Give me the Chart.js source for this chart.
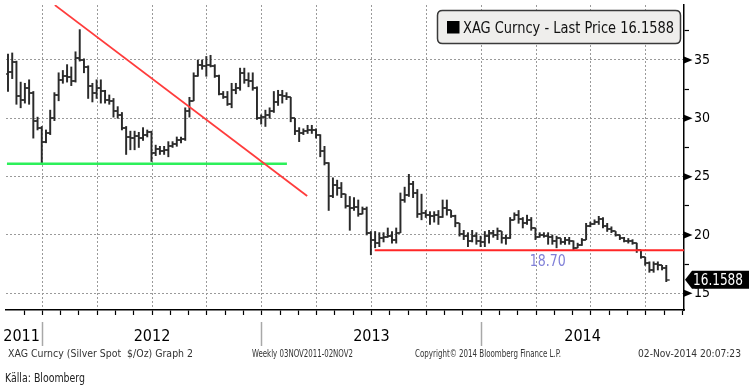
<!DOCTYPE html>
<html><head><meta charset="utf-8">
<script src="https://cdn.jsdelivr.net/npm/chart.js@4.4.1/dist/chart.umd.min.js"></script>
<style>html,body{margin:0;padding:0;background:#fff;overflow:hidden}#wrap{width:749px;height:387px;position:relative}</style>
</head><body><div id="wrap"><canvas id="c" width="749" height="387"></canvas></div>
<script>
// ---------- DATA ----------
const weeks = ['2011-11-04','2011-11-11','2011-11-18','2011-11-25','2011-12-02','2011-12-09','2011-12-16','2011-12-23','2011-12-30',
'2012-01-06','2012-01-13','2012-01-20','2012-01-27','2012-02-03','2012-02-10','2012-02-17','2012-02-24','2012-03-02','2012-03-09','2012-03-16','2012-03-23','2012-03-30','2012-04-06','2012-04-13','2012-04-20','2012-04-27','2012-05-04','2012-05-11','2012-05-18','2012-05-25','2012-06-01','2012-06-08','2012-06-15','2012-06-22','2012-06-29','2012-07-06','2012-07-13','2012-07-20','2012-07-27','2012-08-03','2012-08-10','2012-08-17','2012-08-24','2012-08-31','2012-09-07','2012-09-14','2012-09-21','2012-09-28','2012-10-05','2012-10-12','2012-10-19','2012-10-26','2012-11-02','2012-11-09','2012-11-16','2012-11-23','2012-11-30','2012-12-07','2012-12-14','2012-12-21','2012-12-28',
'2013-01-04','2013-01-11','2013-01-18','2013-01-25','2013-02-01','2013-02-08','2013-02-15','2013-02-22','2013-03-01','2013-03-08','2013-03-15','2013-03-22','2013-03-29','2013-04-05','2013-04-12','2013-04-19','2013-04-26','2013-05-03','2013-05-10','2013-05-17','2013-05-24','2013-05-31','2013-06-07','2013-06-14','2013-06-21','2013-06-28','2013-07-05','2013-07-12','2013-07-19','2013-07-26','2013-08-02','2013-08-09','2013-08-16','2013-08-23','2013-08-30','2013-09-06','2013-09-13','2013-09-20','2013-09-27','2013-10-04','2013-10-11','2013-10-18','2013-10-25','2013-11-01','2013-11-08','2013-11-15','2013-11-22','2013-11-29','2013-12-06','2013-12-13','2013-12-20','2013-12-27',
'2014-01-03','2014-01-10','2014-01-17','2014-01-24','2014-01-31','2014-02-07','2014-02-14','2014-02-21','2014-02-28','2014-03-07','2014-03-14','2014-03-21','2014-03-28','2014-04-04','2014-04-11','2014-04-18','2014-04-25','2014-05-02','2014-05-09','2014-05-16','2014-05-23','2014-05-30','2014-06-06','2014-06-13','2014-06-20','2014-06-27','2014-07-04','2014-07-11','2014-07-18','2014-07-25','2014-08-01','2014-08-08','2014-08-15','2014-08-22','2014-08-29','2014-09-05','2014-09-12','2014-09-19','2014-09-26','2014-10-03','2014-10-10','2014-10-17','2014-10-24','2014-10-31'];

const openP = [33.8,34.0,34.8,31.9,31.6,32.6,32.2,29.8,29.2,28.0, 28.7,30.0,32.0,33.3,33.6,33.5,33.2,35.2,35.0,34.4,
32.8,32.2,32.6,32.3,31.6,31.5,30.6,30.3,29.2,28.4, 28.3,28.5,28.3,28.6,28.8,27.0,27.4,27.2,27.3,27.6,
27.8,28.1,28.2,30.6,31.5,33.6,34.6,34.5,34.6,34.5, 33.6,32.1,31.8,31.2,32.4,32.6,33.9,33.3,33.2,32.6,
30.0,30.1,30.3,30.6,31.4,32.0,31.9,31.8,30.0,28.9, 28.7,28.9,29.0,29.0,28.6,27.2,26.2,23.3,24.3,24.0,
23.5,22.5,22.3,22.4,21.8,22.2,20.2,19.6,19.3,19.7, 19.8,19.9,19.6,20.2,23.0,23.4,24.4,23.6,21.8,21.9,
21.7,21.6,21.7,21.5,22.3,22.1,21.6,21.0,20.1,19.9, 19.5,19.9,19.5,19.4,19.9,20.2,20.0,20.3,19.7,19.7,
21.3,21.7,21.4,21.0,21.3,20.6,19.8,20.0,19.9,19.8, 19.5,19.7,19.4,19.6,19.5,18.9,19.1,19.6,20.8,20.9,
21.1,21.4,20.8,20.5,20.3,20.0,19.7,19.5,19.5,19.3, 18.7,18.1,17.6,17.0,17.5,17.4,17.2];

const highP = [35.5,35.6,34.9,33.1,33.0,33.3,32.3,30.1,29.3,29.0, 30.7,32.2,33.9,34.1,34.6,34.4,35.7,37.6,35.1,34.5,
33.0,33.3,33.3,32.4,32.0,31.7,31.0,30.5,29.3,28.9, 28.9,28.8,29.2,29.0,28.9,27.7,27.6,27.6,28.0,28.0,
28.4,28.4,30.9,31.8,33.9,35.0,35.0,35.3,35.4,34.6, 33.7,32.3,32.3,33.0,33.0,34.3,34.3,33.9,33.9,32.7,
30.3,30.7,30.9,32.3,32.4,32.4,32.2,31.8,30.0,29.2, 29.1,29.4,29.4,29.1,28.6,27.6,26.2,24.9,24.7,24.5,
23.5,23.3,23.2,23.0,22.4,22.4,20.3,20.3,20.2,20.2, 20.6,20.3,20.6,23.6,24.1,25.2,24.6,23.9,23.5,22.1,
22.0,22.0,22.1,23.0,23.0,22.1,21.7,21.0,20.4,20.2, 20.4,20.2,19.9,20.3,20.4,20.4,20.6,20.3,20.0,21.5,
21.9,22.1,21.5,21.7,21.5,20.6,20.2,20.2,20.2,20.0, 19.9,19.7,19.8,19.8,19.5,19.3,19.7,21.0,21.1,21.3,
21.6,21.5,21.0,20.7,20.3,20.0,19.8,19.7,19.6,19.3, 18.7,18.1,17.7,17.7,17.7,17.4,17.4];

const lowP = [32.3,33.4,31.2,30.9,31.3,31.2,28.3,29.0,26.15,27.9, 28.6,29.8,31.5,33.0,33.1,32.8,33.1,34.9,33.9,31.7,
31.4,31.7,31.3,31.3,31.2,30.1,30.0,29.0,26.9,27.3, 27.3,27.5,28.1,28.4,26.3,26.8,26.9,26.9,26.7,27.5,
27.6,27.9,28.1,30.1,31.5,33.6,34.2,33.6,34.4,33.5, 32.0,31.7,31.1,30.9,32.1,32.4,33.0,32.7,32.4,29.9,
29.5,29.3,30.0,30.5,31.1,31.3,31.6,29.7,28.6,28.0, 28.6,28.7,28.7,28.3,26.7,26.0,22.1,23.2,23.4,23.2,
22.3,20.4,22.1,21.6,21.8,20.0,18.3,18.9,19.0,19.4, 19.8,19.3,19.3,20.2,22.8,23.3,23.2,21.5,21.3,21.5,
20.9,21.1,20.9,21.5,21.7,21.5,20.7,19.9,19.6,19.0, 19.4,19.2,19.0,19.0,19.3,19.8,19.6,19.3,19.2,19.7,
21.3,21.0,20.6,20.9,20.4,19.6,19.8,19.8,19.2,19.2, 18.9,19.2,19.2,19.2,18.7,18.9,19.1,19.6,20.7,20.9,
20.9,20.6,20.3,20.2,19.9,19.6,19.4,19.3,19.2,18.5, 18.0,17.4,16.8,16.8,17.0,17.0,16.0];

const closeP = [34.0,34.8,31.9,31.6,32.6,32.2,29.8,29.2,28.0,28.7, 30.0,32.0,33.3,33.6,33.5,33.2,35.2,35.0,34.4,32.8,
32.2,32.6,32.3,31.6,31.5,30.6,30.3,29.2,28.4,28.3, 28.5,28.3,28.6,28.8,27.0,27.4,27.2,27.3,27.6,27.8,
28.1,28.2,30.6,31.5,33.6,34.6,34.5,34.6,34.5,33.6, 32.1,31.8,31.2,32.4,32.6,33.9,33.3,33.2,32.6,30.0,
30.1,30.3,30.6,31.4,32.0,31.9,31.8,30.0,28.9,28.7, 28.9,29.0,29.0,28.6,27.2,26.2,23.3,24.3,24.0,23.5,
22.5,22.3,22.4,21.8,22.2,20.2,19.6,19.3,19.7,19.8, 19.9,19.6,20.2,23.0,23.4,24.4,23.6,21.8,21.9,21.7,
21.6,21.7,21.5,22.3,22.1,21.6,21.0,20.1,19.9,19.5, 19.9,19.5,19.4,19.9,20.2,20.0,20.3,19.7,19.7,21.3,
21.7,21.4,21.0,21.3,20.6,19.8,20.0,19.9,19.8,19.5, 19.7,19.4,19.6,19.5,18.9,19.1,19.6,20.8,20.9,21.1,
21.4,20.8,20.5,20.3,20.0,19.7,19.5,19.5,19.3,18.7, 18.1,17.6,17.0,17.5,17.4,17.2,16.1588];

// annotation lines, in [week index, price]
const greenLine = [[-0.25, 26.1], [66.1, 26.1]];
const redTrend = [[11.1, 39.7], [70.9, 23.34]];
const supportLine = [[86.9, 18.70], [160.2, 18.70]];
const supportLabel = '18.70';

const yTickValues = [15, 17.5, 20, 22.5, 25, 27.5, 30, 32.5, 35, 37.5];
const yearLabels = ['2011', '2012', '2013', '2014'];
const legendText = 'XAG Curncy - Last Price 16.1588';
const lastPriceText = '16.1588';
const footer1 = 'XAG Curncy (Silver Spot  $/Oz) Graph 2';
const footer2 = 'Weekly 03NOV2011-02NOV2';
const footer3 = 'Copyright\u00a9 2014 Bloomberg Finance L.P.';
const footer4 = '02-Nov-2014 20:07:23';
const sourceText = 'K\u00e4lla: Bloomberg';

// ---------- AXIS GEOMETRY ----------
const xMin = -0.474, xMax = 160.2;
const yMin = 13.57, yMax = 39.71;
const firstQuarter = 8.13;   // week index of 1 Jan 2012
const quarterTicks = [];
for (let v = firstQuarter; v <= xMax; v += 13) quarterTicks.push(v);
const monthTicks = [];
for (let k = -2; k < 40; k++) { const v = firstQuarter + k * 13 / 3; if (v >= xMin && v <= xMax) monthTicks.push(v); }
const yearBounds = [firstQuarter, firstQuarter + 52, firstQuarter + 104];
const yearTicks = [
  {v: (xMin + yearBounds[0]) / 2 - 0.6, label: yearLabels[0]},
  {v: yearBounds[0], label: ''},
  {v: (yearBounds[0] + yearBounds[1]) / 2, label: yearLabels[1]},
  {v: yearBounds[1], label: ''},
  {v: (yearBounds[1] + yearBounds[2]) / 2, label: yearLabels[2]},
  {v: yearBounds[2], label: ''},
  {v: (yearBounds[2] + xMax) / 2, label: yearLabels[3]}
];

const narrow = '"Liberation Sans Narrow", "DejaVu Sans Condensed", sans-serif';
const tahoma = '"DejaVu Sans Condensed", "DejaVu Sans", sans-serif';

// point styles for open (left) and close (right) ticks
function tickCanvas(side) {
  const c = document.createElement('canvas'); c.width = 8; c.height = 2;
  const g = c.getContext('2d'); g.fillStyle = '#2a2a2a';
  if (side === 'left') g.fillRect(0.5, 0.3, 3.5, 1.4); else g.fillRect(4, 0.3, 3.5, 1.4);
  return c;
}
const openMark = tickCanvas('left'), closeMark = tickCanvas('right');

const ohlcRange = weeks.map((w, i) => ({x: i, y: [lowP[i], highP[i]]}));
const openPts = weeks.map((w, i) => ({x: i, y: openP[i]}));
const closePts = weeks.map((w, i) => ({x: i, y: closeP[i]}));
const toPts = arr => arr.map(p => ({x: p[0], y: p[1]}));
const noPad = s => { s.paddingTop = 0; s.paddingBottom = 0; s.paddingLeft = 0; s.paddingRight = 0; };

const deco = {
  id: 'deco',
  afterDraw(chart) {
    const ctx = chart.ctx, xs = chart.scales.x, ys = chart.scales.y;
    const ax = chart.chartArea.right;
    ctx.save();
    // axis arrows at major ticks
    ctx.fillStyle = '#000';
    for (const v of yTickValues) {
      if (v % 5 !== 0) continue;
      const py = ys.getPixelForValue(v);
      ctx.beginPath(); ctx.moveTo(ax, py - 3.5); ctx.lineTo(ax + 8.5, py); ctx.lineTo(ax, py + 3.5); ctx.closePath(); ctx.fill();
    }
    // support label
    ctx.fillStyle = '#8080d8';
    ctx.font = '15px ' + tahoma; ctx.textAlign = 'center'; ctx.textBaseline = 'middle';
    ctx.fillText(supportLabel, xs.getPixelForValue(127.9), ys.getPixelForValue(supportLine[0][1]) + 12, 36);
    // legend box
    const bx = 437.5, by = 10.5, bw = 243, bh = 33, r = 5;
    ctx.beginPath();
    ctx.moveTo(bx + r, by); ctx.lineTo(bx + bw - r, by); ctx.quadraticCurveTo(bx + bw, by, bx + bw, by + r);
    ctx.lineTo(bx + bw, by + bh - r); ctx.quadraticCurveTo(bx + bw, by + bh, bx + bw - r, by + bh);
    ctx.lineTo(bx + r, by + bh); ctx.quadraticCurveTo(bx, by + bh, bx, by + bh - r);
    ctx.lineTo(bx, by + r); ctx.quadraticCurveTo(bx, by, bx + r, by); ctx.closePath();
    ctx.fillStyle = '#efeeec'; ctx.fill();
    ctx.strokeStyle = '#3a3a3a'; ctx.lineWidth = 1.5; ctx.stroke();
    ctx.fillStyle = '#000'; ctx.fillRect(447, 21, 12.5, 12.5);
    ctx.fillStyle = '#111'; ctx.font = '15px ' + tahoma; ctx.textAlign = 'left'; ctx.textBaseline = 'alphabetic';
    ctx.fillText(legendText, 463, 33, 211);
    // last price tag
    const py = ys.getPixelForValue(closeP[closeP.length - 1]);
    ctx.fillStyle = '#000';
    ctx.beginPath(); ctx.moveTo(ax + 1, py); ctx.lineTo(ax + 8, py - 9); ctx.lineTo(749, py - 9); ctx.lineTo(749, py + 9); ctx.lineTo(ax + 8, py + 9); ctx.closePath(); ctx.fill();
    ctx.fillStyle = '#fff'; ctx.font = '15px ' + tahoma; ctx.textAlign = 'left'; ctx.textBaseline = 'middle';
    ctx.fillText(lastPriceText, ax + 9, py + 1, 50);
    // footer
    ctx.fillStyle = '#333'; ctx.textBaseline = 'middle'; ctx.font = '11px ' + narrow;
    ctx.fillText(footer1, 8, 354, 185);
    ctx.fillText(footer2, 252, 354, 101);
    ctx.fillText(footer3, 415, 354, 146);
    ctx.fillText(footer4, 638, 354, 103);
    ctx.fillStyle = '#222'; ctx.font = '12px ' + narrow;
    ctx.fillText(sourceText, 5, 379, 80);
    ctx.restore();
  }
};

new Chart(document.getElementById('c'), {
  type: 'line',
  data: {
    datasets: [
      {type: 'line', data: toPts(supportLine), borderColor: '#ff2626', borderWidth: 2, pointRadius: 0, xAxisID: 'x', yAxisID: 'y'},
      {type: 'line', data: toPts(redTrend), borderColor: '#ff3c3c', borderWidth: 1.8, pointRadius: 0, xAxisID: 'x', yAxisID: 'y'},
      {type: 'line', data: toPts(greenLine), borderColor: '#2cf05a', borderWidth: 2.5, pointRadius: 0, xAxisID: 'x', yAxisID: 'y'},
      {type: 'line', data: closePts, showLine: false, pointStyle: closeMark, pointRadius: 2, xAxisID: 'x', yAxisID: 'y'},
      {type: 'line', data: openPts, showLine: false, pointStyle: openMark, pointRadius: 2, xAxisID: 'x', yAxisID: 'y'},
      {type: 'bar', data: ohlcRange, backgroundColor: '#2a2a2a', borderWidth: 0, barThickness: 1.3, xAxisID: 'x', yAxisID: 'y', grouped: false}
    ]
  },
  options: {
    responsive: false, animation: false, devicePixelRatio: 1,
    layout: {padding: {left: 6, top: 0, right: 0, bottom: 0}},
    plugins: {legend: {display: false}, tooltip: {enabled: false}, title: {display: false}},
    scales: {
      x: {
        type: 'linear', position: 'bottom', min: xMin, max: xMax, offset: false, weight: 0,
        afterBuildTicks: s => { s.ticks = quarterTicks.map(v => ({value: v})); },
        ticks: {display: false},
        grid: {drawTicks: false, color: '#9a9a9a', lineWidth: 1, offset: false},
        border: {display: false, dash: [2, 2]},
        afterFit: s => { s.height = 0; noPad(s); }
      },
      xm: {
        type: 'linear', position: 'bottom', min: xMin, max: xMax, offset: false, weight: 1,
        afterBuildTicks: s => { s.ticks = monthTicks.map(v => ({value: v})); },
        ticks: {display: false},
        grid: {drawOnChartArea: false, drawTicks: true, tickLength: 5, tickColor: '#000', tickWidth: 1.2, offset: false},
        border: {display: true, color: '#000', width: 1.5},
        afterFit: s => { s.height = 12; noPad(s); }
      },
      xy: {
        type: 'linear', position: 'bottom', min: xMin, max: xMax, offset: false, weight: 2,
        afterBuildTicks: s => { s.ticks = yearTicks.map(t => ({value: t.v})); },
        ticks: {autoSkip: false, maxRotation: 0, minRotation: 0, padding: -19, color: '#000',
          font: {family: narrow, size: 16}, callback: (v, i) => yearTicks[i].label},
        grid: {drawOnChartArea: false, drawTicks: true, tickLength: 24, tickWidth: 1.5, offset: false,
          tickColor: c => (c.tick && c.tick.label === '') ? '#a8a8a8' : 'rgba(0,0,0,0)'},
        border: {display: false},
        afterFit: s => { s.height = 65; noPad(s); }
      },
      y: {
        type: 'linear', position: 'right', min: yMin, max: yMax, beginAtZero: false,
        afterBuildTicks: s => { s.ticks = yTickValues.map(v => ({value: v})); },
        ticks: {padding: 5, color: '#000', font: {family: tahoma, size: 14},
          callback: v => (v % 5 === 0 ? String(v) : '')},
        grid: {drawTicks: true, tickLength: 5, tickColor: '#000', tickWidth: 1.2,
          color: c => (c.tick && c.tick.value % 5 === 0) ? '#9a9a9a' : 'rgba(0,0,0,0)'},
        border: {display: true, color: '#000', width: 1.5, dash: [2, 2]},
        afterFit: s => { s.width = 65; noPad(s); }
      }
    }
  },
  plugins: [deco]
});
</script>
</body></html>
